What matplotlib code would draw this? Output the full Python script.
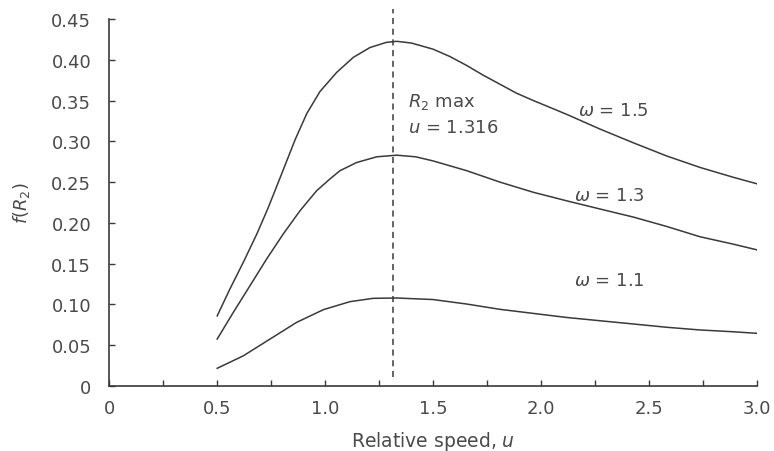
import matplotlib
matplotlib.use("Agg")
import matplotlib.pyplot as plt

plt.rcParams['font.family'] = ['DejaVu Sans']
plt.rcParams['mathtext.fontset'] = 'dejavusans'

# values
u_15 = [0.5, 0.559, 0.621, 0.683, 0.737, 0.776, 0.806, 0.861, 0.915, 0.976,
        1.054, 1.131, 1.208, 1.285, 1.332, 1.40, 1.50, 1.578, 1.656, 1.733,
        1.81, 1.887, 1.965, 2.12, 2.274, 2.43, 2.583, 2.737, 2.89, 3.0]
f_15 = [0.086, 0.119, 0.1517, 0.186, 0.219, 0.245, 0.265, 0.302, 0.334, 0.361,
        0.3846, 0.403, 0.415, 0.4214, 0.4226, 0.4205, 0.413, 0.404, 0.393, 0.381,
        0.370, 0.359, 0.350, 0.333, 0.315, 0.298, 0.282, 0.268, 0.256, 0.248]

u_13 = [0.5, 0.575, 0.652, 0.729, 0.806, 0.884, 0.961, 1.023, 1.069, 1.146,
        1.239, 1.332, 1.42, 1.50, 1.578, 1.656, 1.733, 1.81, 1.965, 2.12,
        2.274, 2.43, 2.583, 2.737, 2.89, 3.0]
f_13 = [0.0576, 0.0904, 0.123, 0.1557, 0.1864, 0.215, 0.2395, 0.254, 0.264, 0.274,
        0.281, 0.283, 0.281, 0.276, 0.270, 0.264, 0.257, 0.250, 0.2375, 0.227,
        0.217, 0.207, 0.1956, 0.183, 0.174, 0.167]

u_11 = [0.5, 0.621, 0.745, 0.868, 0.992, 1.115, 1.223, 1.332, 1.5, 1.656,
        1.81, 1.965, 2.12, 2.274, 2.43, 2.583, 2.737, 2.89, 3.0]
f_11 = [0.0217, 0.037, 0.0576, 0.078, 0.0936, 0.1034, 0.1075, 0.1079, 0.106, 0.1005,
        0.094, 0.089, 0.084, 0.080, 0.076, 0.072, 0.0687, 0.0665, 0.0646]

u_max = 1.316
curve_labels = [r'$\omega$ = 1.5', r'$\omega$ = 1.3', r'$\omega$ = 1.1']
label_pos = [(2.17, 0.338), (2.155, 0.234), (2.155, 0.130)]

x_ticks = [0, 0.5, 1.0, 1.5, 2.0, 2.5, 3.0]
x_ticklabels = ['0', '0.5', '1.0', '1.5', '2.0', '2.5', '3.0']
y_ticks = [0, 0.05, 0.10, 0.15, 0.20, 0.25, 0.30, 0.35, 0.40, 0.45]
y_ticklabels = ['0', '0.05', '0.10', '0.15', '0.20', '0.25', '0.30', '0.35', '0.40', '0.45']

ink = '#3a3a3a'
txt = '#4a4a4a'

fig = plt.figure(figsize=(7.74, 4.52), dpi=100)
ax = fig.add_axes([0.1412, 0.1438, 0.8365, 0.812])

for u, f in [(u_15, f_15), (u_13, f_13), (u_11, f_11)]:
    ax.plot(u, f, color=ink, lw=1.1)

ax.plot([u_max, u_max], [0.011, 0.462], color=ink, lw=1.1,
        linestyle=(0, (4, 3)), clip_on=False)

for lab, (x, y) in zip(curve_labels, label_pos):
    ax.text(x, y, lab, fontsize=13, color=txt, ha='left', va='center')

ax.text(1.384, 0.349, r'$R_2$ max', fontsize=13, color=txt, va='center')
ax.text(1.384, 0.317, r'$u$ = 1.316', fontsize=13, color=txt, va='center')

ax.set_xlim(0, 3.0)
ax.set_ylim(0, 0.45)
ax.set_xticks(x_ticks)
ax.set_xticklabels(x_ticklabels)
ax.set_xticks([0.25, 0.75, 1.25, 1.75, 2.25, 2.75], minor=True)
ax.set_yticks(y_ticks)
ax.set_yticklabels(y_ticklabels)

ax.spines['top'].set_visible(False)
ax.spines['right'].set_visible(False)
for s in ['left', 'bottom']:
    ax.spines[s].set_color(ink)
    ax.spines[s].set_linewidth(1.2)

ax.tick_params(axis='both', which='both', direction='in', length=4,
               color=ink, width=1.0, labelsize=13, labelcolor=txt)
ax.tick_params(axis='x', pad=9)
ax.tick_params(axis='y', pad=13)

ax.set_xlabel(r'Relative speed, $u$', fontsize=13.5, color=txt, labelpad=9)
ax.set_ylabel(r'$f(R_2)$', fontsize=13, color=txt, labelpad=14)

fig.savefig('out.png', dpi=100)
